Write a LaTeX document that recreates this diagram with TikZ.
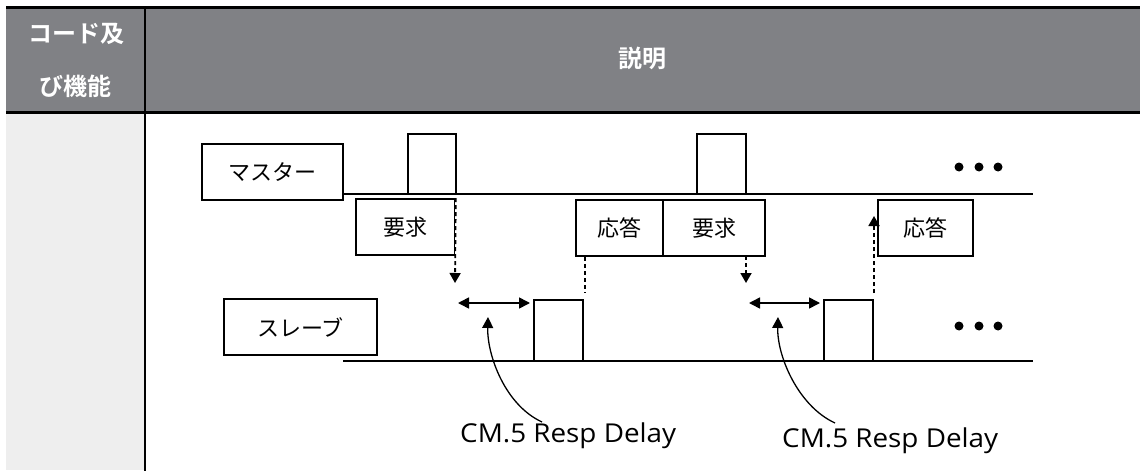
\documentclass[tikz,border=0pt]{standalone}
\usepackage{fontspec}
\newfontfamily\cjk{Noto Sans CJK JP}[BoldFont={Noto Sans CJK JP Bold}]
\newfontfamily\labfont{Open Sans}
\usetikzlibrary{arrows.meta}
\definecolor{hdr}{RGB}{128,129,133}
\definecolor{lcol}{RGB}{238,238,238}
\newcommand{\dlab}{\scalebox{1.07}[1]{CM.5 Resp Delay}}
\begin{document}
\begin{tikzpicture}[x=1pt,y=-1pt,
  hdrtext/.style={text=white, font=\cjk\bfseries\fontsize{24}{24}\selectfont, inner sep=0pt},
  sigbox/.style={draw, line width=1.6pt, minimum height=56pt, inner sep=0pt, font=\cjk\fontsize{22}{22}\selectfont},
  sigline/.style={line width=1.8pt},
  pulse/.style={line width=1.5pt},
  dasharr/.style={line width=1.8pt, dash pattern=on 4pt off 3pt, -{Triangle[length=10pt,width=11pt]}},
  dashln/.style={line width=1.8pt, dash pattern=on 4pt off 3pt},
  dblarr/.style={line width=1.6pt, {Triangle[length=11pt,width=11pt]}-{Triangle[length=11pt,width=11pt]}},
  curvarr/.style={line width=1.3pt, -{Triangle[length=11pt,width=11pt]}},
  lab/.style={font=\labfont\fontsize{26}{26}\selectfont, inner sep=0pt, anchor=base west},
  dot/.style={fill=black}
]
\useasboundingbox (0,0) rectangle (1140,471);
% table
\fill[hdr] (6,8) rectangle (1140,112);
\fill[lcol] (6,113) rectangle (145,470);
\draw[line width=3pt] (6,7.5) -- (1140,7.5);
\draw[line width=2.5pt] (6,112.5) -- (1140,112.5);
\draw[line width=2pt] (145,7) -- (145,471);
\node[hdrtext] (h1) at (76,34) {コード及};
\node[hdrtext] (h2) at (75,86) {び機能};
\node[hdrtext] (h3) at (642,58) {説明};
% signal lines
\draw[sigline] (343,194) -- (1033,194);
\draw[sigline] (343,361) -- (1033,361);
% pulses
\draw[pulse] (408,194) |- (456,134) -- (456,194);
\draw[pulse] (697,194) |- (746,134) -- (746,194);
\draw[pulse] (534,361) |- (583,300) -- (583,361);
\draw[pulse] (824,361) |- (873,300) -- (873,361);
% boxes
\node[sigbox, fill=white, minimum width=141pt] (master) at (272.5,172) {マスター};
\node[sigbox, minimum width=153pt] (slave) at (300.5,327) {スレーブ};
\node[sigbox, minimum width=99pt] (req1) at (405.5,227) {要求};
\node[sigbox, minimum width=87pt] (resp1) at (619.5,228) {応答};
\node[sigbox, minimum width=102pt] (req2) at (714,228) {要求};
\node[sigbox, minimum width=95pt] (resp2) at (925.5,228) {応答};
% dots
\fill[dot] (959,167) circle (4.5pt);
\fill[dot] (979,167) circle (4.5pt);
\fill[dot] (998,167) circle (4.5pt);
\fill[dot] (959,326) circle (4.5pt);
\fill[dot] (979,326) circle (4.5pt);
\fill[dot] (998,326) circle (4.5pt);
% coordinates
\coordinate (a1) at (455,283);
\coordinate (a2s) at (746,256);
\coordinate (a2) at (746,283);
\coordinate (r1s) at (585,257);
\coordinate (r1e) at (585,293);
\coordinate (u2s) at (874,293);
\coordinate (u2e) at (874,216);
\coordinate (d1l) at (458,303);
\coordinate (d1r) at (530,303);
\coordinate (d2l) at (749,303);
\coordinate (d2r) at (820,303);
\coordinate (t1) at (488,317);
\coordinate (t2) at (778,317);
\coordinate (c1) at (542,422);
\coordinate (c2) at (835,423);
% dashed connectors
\draw[white, line width=2pt] (req1.north east) -- (req1.south east);
\draw[dasharr] (req1.north east) -- (a1);
\draw[dasharr] (a2s) -- (a2);
\draw[dashln] (r1s) -- (r1e);
\draw[dasharr] (u2s) -- (u2e);
% delay arrows
\draw[dblarr] (d1l) -- (d1r);
\draw[dblarr] (d2l) -- (d2r);
% labels
\node[lab] (l1) at (460,442) {\dlab};
\node[lab] (l2) at (782,447) {\dlab};
\draw[curvarr] (c1) .. controls (505,405) and (487,355) .. (t1);
\draw[curvarr] (c2) .. controls (798,406) and (777,356) .. (t2);
\end{tikzpicture}
\end{document}
